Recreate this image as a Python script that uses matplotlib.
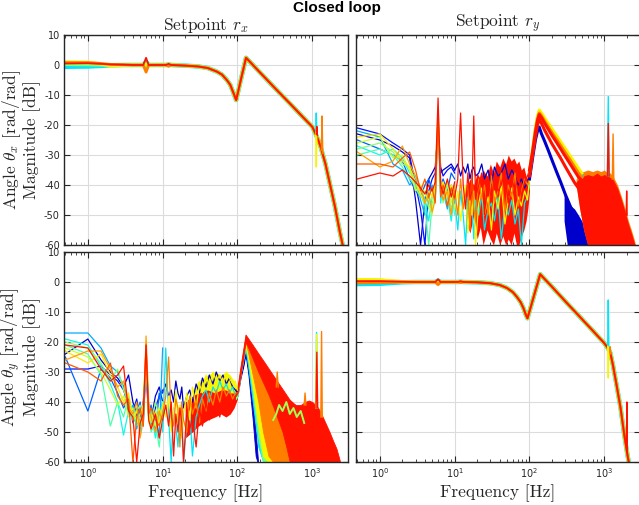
import numpy as np
import matplotlib
matplotlib.use('Agg')
import matplotlib.pyplot as plt

plt.rcParams['axes.unicode_minus'] = False
plt.rcParams['mathtext.fontset'] = 'cm'

jet = plt.cm.jet
BLUE, CYAN, GREEN, YELLOW, ORANGE, RED = 0.07, 0.35, 0.5, 0.65, 0.775, 0.89

# ---------------- diagonal terms (r_x -> theta_x, r_y -> theta_y) ----------------
f_dlow = [0.5, 1, 1.5, 2, 3, 4, 5.5, 6, 6.5, 8, 11, 12, 13]
# low frequency part of each measurement (cyan, green, yellow, orange, red)
tl_low = [[-0.6, -0.5, -0.3, -0.1, 0, 0, 0, 1.0, 0, 0, 0, 0.2, 0],
          [0.3, 0.2, 0.1, 0, 0, 0, 0, -0.8, 0, 0, 0, -0.2, 0],
          [1.0, 0.9, 0.4, -0.3, -0.1, 0, 0, 0.3, 0, 0, 0, 0.3, 0],
          [0.8, 0.8, 0.5, 0.2, 0.1, 0, 0, -2.4, 0, 0, 0, -0.4, 0],
          [0.5, 0.6, 0.4, 0.2, 0.1, 0, 0, 2.4, 0, 0, 0, 0.4, 0]]
br_low = [[-0.7, -0.6, -0.3, -0.1, 0, 0, 0, 0.5, 0, 0, 0, 0.1, 0],
          [0.6, 0.5, 0.2, 0, 0, 0, 0, -0.4, 0, 0, 0, -0.1, 0],
          [0.8, 0.7, 0.3, 0.1, 0, 0, 0, 0.3, 0, 0, 0, 0.2, 0],
          [-0.3, -0.2, -0.1, 0, 0, 0, 0, -0.9, 0, 0, 0, -0.2, 0],
          [0.3, 0.3, 0.2, 0.1, 0, 0, 0, 0.9, 0, 0, 0, 0.3, 0]]

f_tl = [20, 30, 40, 53, 62, 72, 80, 87, 92, 96, 100, 110, 120, 130, 150, 200, 300, 500, 700,
        1000, 1100, 1200, 1300, 1500, 1750, 2000, 2350, 2600, 2800]
m_tl = [-0.2, -0.5, -1.0, -2.2, -3.2, -5.0, -6.6, -8.9, -10.5, -11.7, -9.8, -5.3, -1.3, 2.4, 0.8,
        -2.5, -7.1, -12.8, -16.6, -20.6, -22.8, -25, -27.5, -33, -40.5, -47, -56, -61, -66]

f_br = [20, 30, 40, 50, 60, 68, 76, 83, 89, 94, 100, 110, 120, 130, 139, 150, 200, 300, 500, 700,
        1000, 1100, 1200, 1300, 1450, 1650, 1850, 2050, 2200, 2400]
m_br = [-0.1, -0.4, -1.0, -2.0, -3.4, -5.0, -6.7, -8.7, -10.8, -12.1, -9.8, -6.2, -2.9, 0.1, 2.6,
        1.7, -1.6, -6.4, -12.3, -16.2, -20.4, -21.8, -23.5, -27.5, -34, -42, -51, -58, -62, -66]

# narrow peaks around 1.1 kHz (freqs, values, colour)
tl_spikes = [([1110, 1130, 1150], [-22.5, -16, -22.5], CYAN),
             ([1110, 1130, 1150], [-22.5, -34, -22.5], YELLOW),
             ([1130, 1150, 1170], [-23, -20.5, -23.5], RED),
             ([1320, 1350, 1380], [-28.5, -17, -29.5], ORANGE)]
br_spikes = [([1110, 1130, 1150], [-21.5, -6, -21.8], CYAN),
             ([1110, 1130, 1150], [-21.5, -32, -21.8], YELLOW),
             ([1180, 1200, 1220], [-23, -21.6, -24], ORANGE),
             ([1970, 2000, 2030], [-55, -40, -57], RED)]

# ---------------- coupling r_y -> theta_x (top right) ----------------
f_low = [0.5, 1, 1.5, 2, 2.5, 3, 3.5, 4, 4.5, 5, 5.5, 6, 6.5, 7, 8, 9, 10]
tr_low = [[-23, -25, -27, -29, -31, -45, -60, -45, -38, -36, -34, -22, -36, -35, -34, -33, -35],
          [-21, -23, -26, -28, -30, -40, -48, -60, -42, -38, -36, -20, -34, -37, -35, -34, -36],
          [-25, -28, -30, -32, -38, -42, -44, -40, -38, -42, -40, -18, -40, -38, -42, -36, -38],
          [-22, -24, -33, -35, -40, -38, -45, -50, -44, -40, -45, -16, -44, -42, -48, -40, -46],
          [-27, -30, -28, -31, -36, -37, -41, -45, -52, -44, -42, -17, -46, -40, -44, -52, -42],
          [-30, -28, -30, -34, -38, -40, -43, -47, -60, -46, -44, -19, -42, -44, -46, -42, -50],
          [-28, -26, -29, -33, -34, -41, -44, -42, -48, -43, -40, -15, -38, -46, -40, -48, -44],
          [-26, -24, -31, -30, -35, -42, -40, -43, -45, -50, -38, -14, -40, -43, -39, -46, -41],
          [-24, -23, -28, -32, -34, -39, -43, -46, -42, -44, -40, -16, -42, -39, -44, -40, -43],
          [-29, -34, -32, -27, -33, -37, -41, -46, -43, -49, -45, -18, -41, -45, -42, -50, -40],
          [-33, -33, -34, -31, -29, -35, -42, -38, -44, -41, -46, -17, -44, -40, -47, -41, -45],
          [-38, -36, -37, -35, -37, -39, -41, -43, -40, -42, -39, -11, -40, -43, -38, -44, -39]]

f_mid = [10, 11, 12, 13, 14, 15, 16, 17, 18, 19, 21, 23, 25, 28, 31, 34, 38, 42, 47, 52,
         58, 64, 71, 78, 86, 94, 100]
mid_colors = [BLUE, CYAN, YELLOW, ORANGE, RED]
tr_mid = [[-35, -33, -37, -34, -36, -33, -38, -35, -34, -37, -36, -33, -38, -35, -40, -34, -37, -36, -33, -38,
           -35, -37, -40, -38, -41, -39, -37],
          [-45, -55, -42, -50, -60, -44, -52, -47, -58, -45, -50, -43, -55, -48, -46, -52, -44, -58, -47, -50,
           -45, -53, -48, -60, -46, -44, -40],
          [-48, -42, -52, -45, -40, -56, -44, -50, -42, -60, -46, -41, -50, -44, -55, -42, -48, -40, -53, -45,
           -41, -50, -44, -47, -42, -45, -38],
          [-42, -50, -38, -48, -43, -40, -55, -36, -47, -52, -38, -45, -40, -50, -37, -46, -42, -36, -49, -40,
           -44, -36, -47, -42, -38, -40, -37],
          [-44, -38, -16, -40, -48, -36, -45, -42, -17, -44, -40, -36, -50, -38, -45, -37, -42, -40, -35, -46,
           -38, -42, -36, -44, -39, -37, -35]]
# dense part between 14 and 100 Hz
f_tr_band = [14, 16, 18, 20, 22, 24, 27, 30, 33, 36, 40, 44, 48, 52, 57, 62, 67, 72, 78, 84, 90, 95, 100]
tr_band_up = [-42, -38, -40, -36, -38, -35, -37, -33, -36, -32, -34, -31, -33, -30, -32, -31, -33, -32,
              -35, -34, -37, -38, -36]
tr_band_low = [-52, -56, -50, -58, -54, -60, -55, -58, -60, -56, -60, -57, -60, -58, -60, -56, -60, -60,
               -57, -55, -52, -48, -42]

f_tr_hi = [100, 110, 120, 128, 135, 145, 160, 180, 200, 230, 260, 300, 350, 400, 450, 500]
tr_hi = [(BLUE, [-38, -31, -25, -22, -20.7, -23, -25.5, -28.7, -31.7, -35.6, -38.9, -43, -47, -50, -53, -56]),
         (CYAN, [-36, -28.5, -21.5, -17.5, -15.5, -16.5, -18.3, -20.3, -22, -24.2, -26.2, -28.6, -31, -33.3, -35.3, -37]),
         (YELLOW, [-36, -28, -21, -17, -15, -16, -17.7, -19.6, -21.3, -23.5, -25.5, -27.8, -30.3, -32.5, -34.4, -36]),
         (ORANGE, [-36, -29, -22, -18, -16, -17, -18.8, -20.8, -22.6, -24.8, -26.8, -29.2, -31.7, -34, -36, -37.5]),
         (RED, [-37, -30, -24, -20, -18, -19.5, -21.8, -24.2, -26.3, -28.8, -31, -33.8, -36.7, -39.2, -41, -42]),
         (RED, [-35, -29, -22.5, -18.5, -16.5, -17.6, -19.5, -21.6, -23.5, -25.8, -27.9, -30.4, -33, -35.3, -37.3, -38.5])]
f_tr_blue = [290, 320, 360, 400, 450, 500, 550, 600]
tr_blue_up = [-42, -45, -47, -48, -50, -52, -54, -58]
tr_blue_low = [-52, -60, -60, -60, -60, -60, -60, -60]
f_tr_red = [420, 470, 530, 600, 700, 800, 900, 1000, 1100, 1200, 1300, 1500, 1700, 1900, 2100, 2300, 2500, 2650]
tr_orange_up = [-38, -36, -35.5, -35, -35.5, -35, -35.5, -35, -36, -36, -37, -40, -44, -48, -52, -55, -58, -60.5]
tr_red_up = [-39, -37.5, -37, -36.5, -37, -36, -37, -36.5, -37, -37.5, -38, -41, -45, -49, -53, -56, -59, -61]
tr_red_low = [-40, -48, -55, -60, -60, -60, -60, -60, -60, -60, -60, -60, -60, -60, -60, -60, -60, -61]
tr_spikes = [([1100, 1130, 1160], [-37, -10.5, -37], CYAN),
             ([1100, 1130, 1160], [-37, -19.5, -37], RED),
             ([1280, 1310, 1340], [-38, -23, -38], ORANGE),
             ([1960, 1990, 2020], [-50, -42, -50], RED)]

# ---------------- coupling r_x -> theta_y (bottom left) ----------------
bl_low = [[-24, -19, -26, -30, -32, -35, -31, -40, -44, -47, -40, -28, -42, -46, -38, -35, -40],
          [-29, -29, -28, -31, -33, -36, -41, -43, -39, -45, -41, -30, -45, -48, -42, -38, -36],
          [-25, -43, -29, -32, -37, -42, -39, -47, -44, -40, -48, -26, -44, -41, -50, -37, -45],
          [-17, -17, -22, -28, -30, -35, -44, -41, -49, -43, -46, -29, -41, -49, -44, -52, -22],
          [-19, -21, -28, -34, -40, -51, -43, -46, -42, -50, -44, -25, -46, -43, -52, -45, -40],
          [-21, -24, -31, -48, -40, -45, -38, -44, -48, -46, -42, -27, -43, -50, -47, -55, -43],
          [-20, -22, -27, -33, -29, -36, -40, -45, -43, -41, -47, -24, -42, -47, -40, -45, -48],
          [-22, -25, -30, -36, -41, -38, -45, -42, -47, -44, -41, -22, -47, -44, -48, -42, -46],
          [-23, -27, -24, -31, -35, -40, -37, -46, -43, -48, -42, -20, -45, -49, -43, -47, -41],
          [-26, -23, -23, -29, -35, -33, -42, -44, -40, -52, -46, -18, -40, -45, -50, -43, -47],
          [-27, -30, -33, -27, -38, -41, -39, -60, -45, -42, -48, -21, -44, -42, -46, -48, -44],
          [-21, -22, -29, -33, -31, -28, -43, -45, -60, -47, -44, -21, -46, -49, -44, -52, -46]]
bl_mid = [[-37, -34, -38, -36, -40, -33, -37, -39, -35, -42, -38, -36, -40, -34, -37, -32, -35, -31, -34, -30,
           -33, -31, -34, -32, -35, -36, -37],
          [-50, -22, -45, -60, -42, -48, -55, -44, -40, -60, -47, -43, -58, -45, -41, -38, -36, -40, -35, -37,
           -33, -36, -34, -37, -35, -38, -37],
          [-40, -45, -38, -50, -43, -36, -47, -41, -52, -44, -37, -46, -35, -42, -34, -37, -31, -35, -30, -33,
           -31, -34, -30, -32, -34, -33, -36],
          [-44, -38, -25, -45, -48, -39, -42, -55, -40, -46, -50, -38, -44, -40, -47, -39, -43, -37, -41, -36,
           -40, -35, -38, -36, -39, -37, -37],
          [-46, -41, -48, -40, -58, -44, -50, -42, -47, -60, -43, -49, -45, -55, -42, -48, -40, -46, -43, -41,
           -45, -39, -43, -40, -42, -38, -37]]
f_bl_yel = [25, 30, 40, 50, 60, 70, 80, 90, 100]
bl_yel_up = [-36, -33, -31, -30, -31, -30, -31, -33, -36]
bl_yel_low = [-42, -41, -40, -39, -40, -39, -40, -40, -38]
f_bl_red = [20, 25, 30, 40, 50, 60, 70, 80, 90, 100]
bl_red_up = [-40, -38, -37, -36, -37, -36, -36, -37, -37, -37]
bl_red_low = [-52, -50, -48, -46, -45, -44, -45, -44, -42, -39]

# high frequency part: rise, peak and decay of each colour down to the noise floor
bl_hi = [(BLUE, [95, 100, 110, 120, 128, 140, 160, 175, 190],
          [-38, -37, -31, -27, -23, -29, -41, -50, -61],
          [-39, -38, -32, -28, -24, -31, -46, -58, -61]),
         (CYAN, [95, 100, 110, 120, 128, 140, 160, 190, 220, 250, 270],
          [-38, -37, -30, -25, -21.5, -26, -33, -42, -51, -58, -61],
          [-39, -38, -31, -26, -22.5, -29, -40, -55, -60, -61, -61]),
         (GREEN, [95, 100, 110, 120, 128, 140, 160, 190, 220, 260, 290],
          [-38, -37, -30, -24, -20.5, -24.5, -31, -39, -47, -56, -61],
          [-39, -38, -31, -25, -21.5, -27, -37, -52, -60, -60, -61]),
         (YELLOW, [95, 100, 110, 120, 128, 140, 160, 190, 220, 260, 300, 320],
          [-37, -36, -29, -23, -19.5, -23, -28.5, -35.5, -42, -51, -58, -61],
          [-38, -37, -30, -24, -20.5, -26, -35, -48, -58, -60, -60, -61]),
         (ORANGE, [95, 100, 110, 120, 128, 140, 160, 190, 220, 260, 300, 350, 400, 450, 530],
          [-37, -36, -29, -23, -18.5, -21, -25, -29.5, -33, -37.5, -41, -45, -49, -53, -61],
          [-38, -37, -30, -24, -19.5, -24, -31, -40, -50, -58, -60, -60, -60, -60, -61])]
f_bl_hi = [95, 100, 110, 120, 128, 140, 160, 190, 220, 260, 300, 350, 400, 450, 500, 600, 700, 800, 900, 1000,
           1100, 1200, 1350, 1500, 1700, 1900, 2100, 2300, 2500]
bl_hi_red_up = [-36, -35, -28, -22, -17.5, -18.9, -21, -23.8, -26.1, -28.8, -31.1, -33.6, -35.7, -37.6, -39.3,
                -41, -41, -40, -39.5, -40, -41, -42, -44.5, -47, -50, -53, -55.5, -59, -63]
bl_hi_red_low = [-38, -37, -31, -25, -20, -22, -25.5, -30, -33.5, -37.5, -41.5, -46, -50, -55, -60, -60, -60, -60,
                 -60, -60, -60, -60, -60, -60, -60, -60, -60, -60, -63]
f_bl_floor = [300, 330, 360, 400, 450, 500, 560, 620, 700, 780]
bl_floor = [-46, -44, -41, -43, -40, -44, -42, -45, -43, -47]
bl_spikes = [([1110, 1140, 1170], [-42, -16.8, -42], CYAN),
             ([1110, 1140, 1170], [-42, -17.4, -42], YELLOW),
             ([1300, 1330, 1360], [-45, -16.5, -45], ORANGE),
             ([1120, 1150, 1180], [-42, -23.4, -42], RED),
             ([780, 800, 820], [-41, -37, -41], ORANGE),
             ([330, 340, 350], [-35, -30, -35], ORANGE)]

# ---------------- figure ----------------
fig = plt.figure(figsize=(6.39, 5.05), dpi=100)
w, h = 284 / 639, 210 / 505
ax_tl = fig.add_axes([64 / 639, 1 - 245 / 505, w, h])
ax_tr = fig.add_axes([356 / 639, 1 - 245 / 505, w, h])
ax_bl = fig.add_axes([64 / 639, 1 - 462 / 505, w, h])
ax_br = fig.add_axes([356 / 639, 1 - 462 / 505, w, h])
diag_cols = [CYAN, GREEN, YELLOW, ORANGE, RED]
halo = [3.2, 2.8, 2.4, 2.0, 1.3]
low_cols = jet(np.linspace(BLUE, RED, 12))

# diagonal terms
for ax, low, f_n, m_n, spikes in [(ax_tl, tl_low, f_tl, m_tl, tl_spikes),
                                  (ax_br, br_low, f_br, m_br, br_spikes)]:
    for k in range(len(low)):
        ax.plot(f_dlow + f_n, low[k] + m_n, color=jet(diag_cols[k]), lw=halo[k])
    for fs, ms, c in spikes:
        ax.plot(fs, ms, color=jet(c), lw=1.0)

# top right
ax = ax_tr
for k in range(len(tr_low)):
    ax.plot(f_low, tr_low[k], color=low_cols[k], lw=0.9)
for k in range(4):
    ax.plot(f_mid, tr_mid[k], color=jet(mid_colors[k]), lw=0.9)
ax.fill_between(f_tr_band, tr_band_low, tr_band_up, color=jet(RED), lw=0)
ax.plot(f_mid, tr_mid[4], color=jet(RED), lw=0.9)
for c, m in tr_hi:
    ax.plot(f_tr_hi, m, color=jet(c), lw=2.2)
ax.fill_between(f_tr_blue, tr_blue_low, tr_blue_up, color=jet(BLUE), lw=0)
ax.fill_between(f_tr_red, tr_red_low, tr_orange_up, color=jet(ORANGE), lw=0)
ax.fill_between(f_tr_red, tr_red_low, tr_red_up, color=jet(RED), lw=0)
for fs, ms, c in tr_spikes:
    ax.plot(fs, ms, color=jet(c), lw=1.0)

# bottom left
ax = ax_bl
for k in range(len(bl_low)):
    ax.plot(f_low, bl_low[k], color=low_cols[k], lw=0.9)
ax.fill_between(f_bl_yel, bl_yel_low, bl_yel_up, color=jet(YELLOW), lw=0)
for k in range(4):
    ax.plot(f_mid, bl_mid[k], color=jet(mid_colors[k]), lw=0.9)
ax.fill_between(f_bl_red, bl_red_low, bl_red_up, color=jet(RED), lw=0)
ax.plot(f_mid, bl_mid[4], color=jet(RED), lw=0.9)
for c, fs, up, lo in bl_hi:
    ax.fill_between(fs, lo, up, color=jet(c), lw=0.6, edgecolor=jet(c))
ax.fill_between(f_bl_hi, bl_hi_red_low, bl_hi_red_up, color=jet(RED), lw=0.6, edgecolor=jet(RED))
ax.plot(f_bl_floor, bl_floor, color=jet(0.55), lw=1.4)
for fs, ms, c in bl_spikes:
    ax.plot(fs, ms, color=jet(c), lw=1.0)

# axes styling
for ax in [ax_tl, ax_tr, ax_bl, ax_br]:
    ax.set_xscale('log')
    ax.set_xlim(0.48, 3000)
    ax.set_ylim(-60, 10)
    ax.set_yticks(range(-60, 11, 10))
    ax.grid(True, which='major', color='#dcdcdc', lw=0.8)
    ax.set_axisbelow(True)
    ax.tick_params(which='both', direction='in', top=True, right=True,
                   labelsize=7, colors='#262626', pad=3)
    ax.tick_params(which='major', length=4)
    ax.tick_params(which='minor', length=2.2)
    for s in ax.spines.values():
        s.set_color('#262626')
        s.set_linewidth(1.0)

ax_tl.tick_params(labelbottom=False)
ax_tr.tick_params(labelbottom=False, labelleft=False)
ax_br.tick_params(labelleft=False)

lab = dict(family='cmr10', fontsize=12.5, color='#262626')
ax_tl.set_title('Setpoint $r_x$', pad=3, **lab)
ax_tr.set_title('Setpoint $r_y$', pad=3, **lab)
ax_tl.set_ylabel('Angle $\\theta_x$ [rad/rad]\nMagnitude [dB]', labelpad=2, linespacing=1.0, **lab)
ax_bl.set_ylabel('Angle $\\theta_y$ [rad/rad]\nMagnitude [dB]', labelpad=2, linespacing=1.0, **lab)
ax_bl.set_xlabel('Frequency [Hz]', labelpad=3, **lab)
ax_br.set_xlabel('Frequency [Hz]', labelpad=3, **lab)

fig.text(0.527, 0.984, 'Closed loop', ha='center', va='center', fontsize=11,
         fontweight='bold', family='Liberation Sans')

fig.savefig('out.png', dpi=100)
